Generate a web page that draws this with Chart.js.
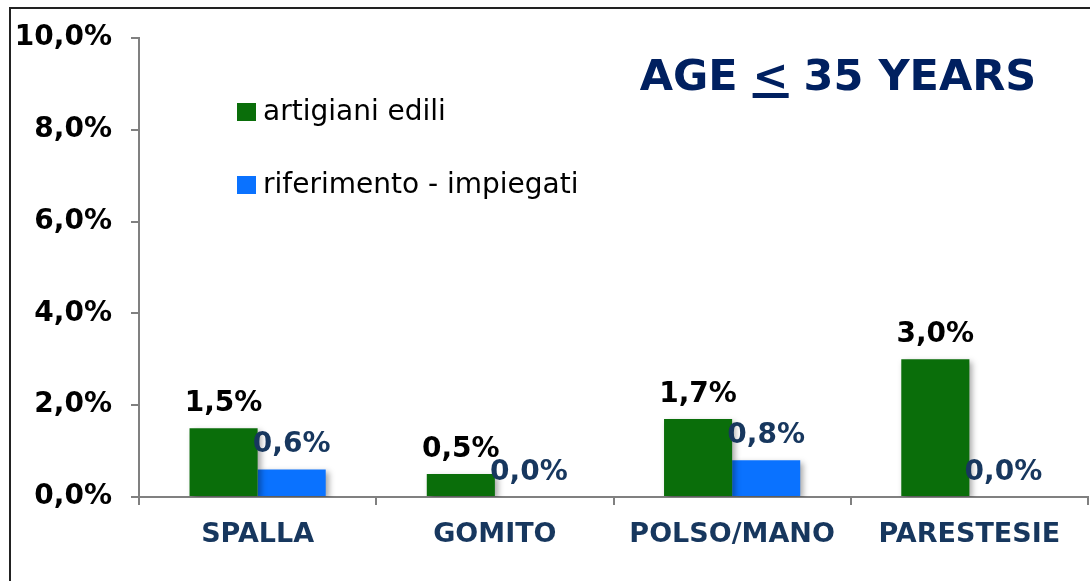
<!DOCTYPE html>
<html>
<head>
<meta charset="utf-8">
<script src="https://cdn.jsdelivr.net/npm/chart.js@4.4.0/dist/chart.umd.min.js"></script>
<style>
html, body { margin: 0; padding: 0; background: #fff; }
#wrap { position: relative; width: 1090px; height: 581px; }
</style>
</head>
<body>
<div id="wrap"><canvas id="chart" width="1090" height="581"></canvas></div>
<script>
let categories = ["SPALLA", "GOMITO", "POLSO/MANO", "PARESTESIE"];
let seriesNames = ["artigiani edili", "riferimento - impiegati"];
let artigiani = [1.5, 0.5, 1.7, 3.0];
let impiegati = [0.6, 0.0, 0.8, 0.0];
let yTicks = [0, 2, 4, 6, 8, 10];

const FONT = "'DejaVu Sans', Verdana, sans-serif";
const GREEN = "#0A6E0A";
const BLUE = "#0A72FF";
const NAVY = "#17375E";

function fmt(v) {
    return Number(v).toFixed(1).replace(".", ",") + "%";
}

/* ---------- FRAME ---------- */
const framePlugin = {
    id: "frame",
    afterDraw(chart) {
        let ctx = chart.ctx;
        ctx.save();
        ctx.strokeStyle = "#222";
        ctx.lineWidth = 2;
        ctx.beginPath();
        ctx.moveTo(10, chart.height);
        ctx.lineTo(10, 8);
        ctx.lineTo(chart.width, 8);
        ctx.stroke();
        ctx.restore();
    }
};

/* ---------- BAR SHADOW ---------- */
const shadowPlugin = {
    id: "barShadow",
    beforeDatasetsDraw(chart) {
        let ctx = chart.ctx;
        ctx.save();
        ctx.shadowColor = "rgba(0,0,0,0.35)";
        ctx.shadowBlur = 6;
        ctx.shadowOffsetX = 3;
        ctx.shadowOffsetY = 3;
    },
    afterDatasetsDraw(chart) {
        chart.ctx.restore();
    }
};

/* ---------- VALUE LABELS ---------- */
const labelPlugin = {
    id: "valueLabels",
    afterDraw(chart) {
        let ctx = chart.ctx;
        ctx.save();
        ctx.font = "bold 28px " + FONT;
        ctx.textAlign = "center";
        ctx.textBaseline = "alphabetic";
        chart.data.datasets.forEach((ds, i) => {
            let meta = chart.getDatasetMeta(i);
            ctx.fillStyle = ds.labelColor;
            meta.data.forEach((bar, j) => {
                ctx.fillText(fmt(ds.data[j]), bar.x, bar.y - 17);
            });
        });
        ctx.restore();
    }
};

/* ---------- LEGEND ---------- */
const legendPlugin = {
    id: "sideLegend",
    afterDraw(chart) {
        let ctx = chart.ctx;
        let area = chart.chartArea;
        let x = area.left + 98;
        let y = area.top + 74;
        ctx.save();
        ctx.font = "28px " + FONT;
        ctx.textBaseline = "middle";
        ctx.textAlign = "left";
        chart.data.datasets.forEach((ds, i) => {
            let cy = y + i * 73;
            ctx.fillStyle = ds.backgroundColor;
            ctx.fillRect(x, cy - 9, 19, 18);
            ctx.fillStyle = "#000";
            ctx.fillText(ds.label, x + 26, cy + 1);
        });
        ctx.restore();
    }
};

/* ---------- TITLE ---------- */
const titlePlugin = {
    id: "ageTitle",
    afterDraw(chart) {
        let ctx = chart.ctx;
        let parts = ["AGE ", "<", " 35 YEARS"];
        ctx.save();
        ctx.font = "bold 43px " + FONT;
        ctx.fillStyle = "#002060";
        ctx.textBaseline = "alphabetic";
        ctx.textAlign = "left";
        let total = ctx.measureText(parts.join("")).width;
        let x = 838 - total / 2;
        let base = 90;
        parts.forEach((p, i) => {
            let w = ctx.measureText(p).width;
            ctx.fillText(p, x, base);
            if (i === 1) ctx.fillRect(x, base + 3, w, 5);
            x += w;
        });
        ctx.restore();
    }
};

let ctx = document.getElementById("chart").getContext("2d");

let chart = new Chart(ctx, {
    type: "bar",
    data: {
        labels: categories,
        datasets: [
            {
                label: seriesNames[0],
                data: artigiani,
                backgroundColor: GREEN,
                labelColor: "#000"
            },
            {
                label: seriesNames[1],
                data: impiegati,
                backgroundColor: BLUE,
                labelColor: NAVY
            }
        ]
    },
    options: {
        responsive: false,
        animation: false,
        layout: { padding: { top: 38, right: 2, bottom: 0, left: 0 } },
        datasets: {
            bar: { categoryPercentage: 0.574, barPercentage: 1.0 }
        },
        plugins: {
            legend: { display: false },
            tooltip: { enabled: false }
        },
        scales: {
            x: {
                afterFit: s => { s.height = 84; },
                border: { color: "#808080", width: 2 },
                grid: { offset: true, drawOnChartArea: false, tickLength: 8, color: "#808080", lineWidth: 2 },
                ticks: {
                    padding: 14,
                    color: NAVY,
                    font: { family: FONT, size: 27, weight: "bold" }
                }
            },
            y: {
                min: 0,
                max: 10,
                afterBuildTicks: s => { s.ticks = yTicks.map(v => ({ value: v })); },
                afterFit: s => { s.width = 139; },
                border: { color: "#808080", width: 2 },
                grid: { drawOnChartArea: false, tickLength: 8, color: "#808080", lineWidth: 2 },
                ticks: {
                    padding: 19,
                    color: "#000",
                    font: { family: FONT, size: 28, weight: "bold" },
                    callback: v => fmt(v)
                }
            }
        }
    },
    plugins: [framePlugin, shadowPlugin, labelPlugin, legendPlugin, titlePlugin]
});
</script>
</body>
</html>
